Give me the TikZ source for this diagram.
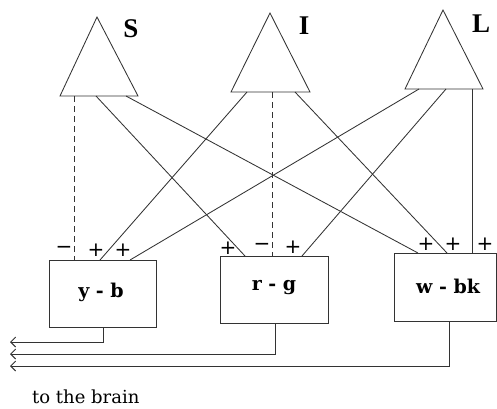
\documentclass[tikz,border=0pt]{standalone}
\usepackage{fontspec}
\setmainfont{DejaVu Serif}
\newfontfamily\letterfont{Liberation Serif}
\newfontfamily\signfont{DejaVu Sans}
\usetikzlibrary{arrows.meta}
\begin{document}
\begin{tikzpicture}[x=1pt,y=-1pt,
  ln/.style={line width=0.85pt,draw=black!80},
  dsh/.style={ln,dash pattern=on 6pt off 4pt},
  boxnode/.style={ln,rectangle,inner sep=0pt},
  boxtext/.style={inner sep=0pt,font=\bfseries\fontsize{19}{21}\selectfont},
  lbl/.style={font=\letterfont\bfseries\fontsize{27}{30}\selectfont,inner sep=0pt},
  sgn/.style={font=\signfont\fontsize{20}{22}\selectfont,inner sep=0pt,text=black},
  outarr/.style={ln,-{Straight Barb[length=5pt,width=10pt,line width=0.9pt]}}]
\useasboundingbox (0,0) rectangle (497,408);
% triangles
\draw[ln] (97,17) coordinate (Sa) -- (138,96) coordinate (Sr) -- (60,96) coordinate (Sl) -- cycle;
\draw[ln] (270,13) coordinate (Ia) -- (310,92) coordinate (Ir) -- (231,92) coordinate (Il) -- cycle;
\draw[ln] (443,10) coordinate (La) -- (483,89) coordinate (Lr) -- (405,89) coordinate (Ll) -- cycle;
\node[lbl] (S) at (131,29) {S};
\node[lbl] (I) at (304,26) {I};
\node[lbl] (L) at (481,24) {L};
% boxes
\node[boxnode,minimum width=107pt,minimum height=67pt] (yb) at (102.5,293.5) {};
\node[boxtext] (ybt) at (101,292) {y - b};
\node[boxnode,minimum width=108pt,minimum height=67pt] (rg) at (274,289.5) {};
\node[boxtext] (rgt) at (274,288) {r - g};
\node[boxnode,minimum width=102pt,minimum height=68pt] (wb) at (445,287) {};
\node[boxtext] (wbt) at (448,286) {w - bk};
% connection points on triangles
\coordinate (S1) at (74,96);
\coordinate (S2) at (96,96);
\coordinate (S3) at (126,96);
\coordinate (I1) at (247,92);
\coordinate (I2) at (272,92);
\coordinate (I3) at (295,92);
\coordinate (L1) at (419,89);
\coordinate (L2) at (446,89);
\coordinate (L3) at (472,89);
% connection points on boxes
\coordinate (yb1) at (74,260);
\coordinate (yb2) at (100,260);
\coordinate (yb3) at (130,260);
\coordinate (rg1) at (245,256);
\coordinate (rg2) at (272,256);
\coordinate (rg3) at (302,256);
\coordinate (wb1) at (418,253);
\coordinate (wb2) at (447,253);
\coordinate (wb3) at (472,253);
% connectors
\draw[dsh] (S1) -- (yb1);
\draw[ln] (S2) -- (rg1);
\draw[ln] (S3) -- (wb1);
\draw[ln] (I1) -- (yb2);
\draw[dsh] (I2) -- (rg2);
\draw[ln] (I3) -- (wb2);
\draw[ln] (L1) -- (yb3);
\draw[ln] (L2) -- (rg3);
\draw[ln] (L3) -- (wb3);
% signs
\node[sgn] (m1) at (64,250) {−};
\node[sgn] (p1) at (96,250) {+};
\node[sgn] (p2) at (123,250) {+};
\node[sgn] (p3) at (228,248) {+};
\node[sgn] (m2) at (262,247) {−};
\node[sgn] (p4) at (293,247) {+};
\node[sgn] (p5) at (426,244) {+};
\node[sgn] (p6) at (453,244) {+};
\node[sgn] (p7) at (485,244) {+};
% outputs
\coordinate (o1) at (10,342);
\coordinate (o2) at (10,354);
\coordinate (o3) at (10,366);
\draw[outarr] (yb.south -| 103,0) |- (o1);
\draw[outarr] (rg.south -| 275,0) |- (o2);
\draw[outarr] (wb.south -| 449,0) |- (o3);
\node[font=\fontsize{18}{20}\selectfont,inner sep=0pt,anchor=base west] (brain) at (32,403) {to the brain};
\end{tikzpicture}
\end{document}
